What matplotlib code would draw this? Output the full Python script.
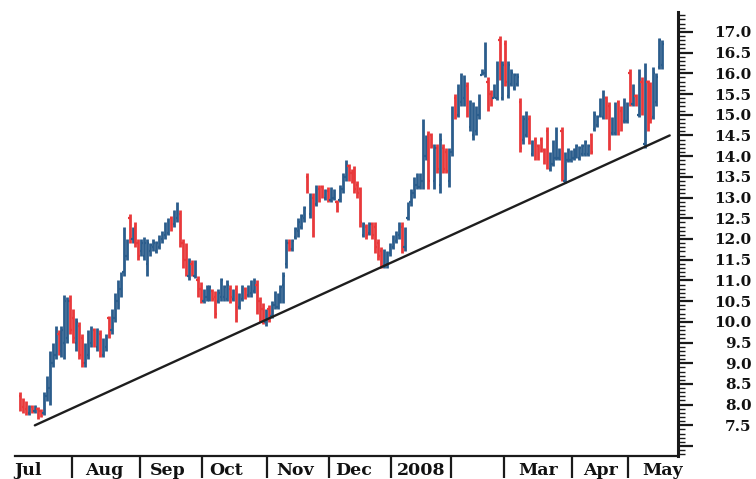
import matplotlib
matplotlib.use("Agg")
import matplotlib.pyplot as plt
from matplotlib.ticker import FixedLocator, MultipleLocator, NullFormatter, FixedFormatter
import numpy as np

# ---- data (daily OHLC) ----
opens = [8.20, 7.95, 7.90, 7.80, 7.95, 7.85, 7.90, 7.85, 7.80, 8.20,
         8.40, 9.00, 9.20, 9.70, 9.30, 9.50, 9.60, 10.50, 10.10, 9.50,
         9.90, 9.60, 9.00, 9.20, 9.50, 9.80, 9.40, 9.70, 9.20, 9.40,
         10.10, 9.80, 10.10, 10.50, 10.80, 11.20, 11.60, 12.50, 12.00, 12.30,
         11.90, 11.70, 11.60, 11.40, 11.70, 11.80, 11.70, 11.80, 12.00, 12.10,
         12.15, 12.50, 12.35, 12.50, 12.60, 11.90, 11.50, 11.10, 11.40, 11.10,
         11.00, 10.80, 10.50, 10.60, 10.55, 10.75, 10.60, 10.50, 10.60, 10.60,
         10.55, 10.80, 10.55, 10.80, 10.35, 10.55, 10.80, 10.65, 10.70, 10.75,
         10.90, 10.50, 10.30, 10.00, 10.30, 10.15, 10.40, 10.35, 10.50, 10.90,
         11.40, 11.90, 11.75, 12.05, 12.20, 12.30, 12.50, 13.50, 12.60, 13.00,
         12.85, 13.20, 13.25, 13.00, 13.15, 12.95, 13.00, 12.90, 12.95, 13.20,
         13.50, 13.75, 13.60, 13.60, 13.30, 13.20, 12.10, 12.30, 12.15, 12.35,
         12.30, 11.90, 11.70, 11.35, 11.40, 11.65, 11.80, 11.95, 12.10, 12.30,
         11.80, 12.50, 12.90, 13.10, 13.30, 13.25, 13.40, 14.00, 14.50, 14.50,
         13.40, 14.20, 13.30, 14.20, 14.10, 13.40, 14.10, 15.40, 15.00, 15.30,
         15.40, 15.70, 14.70, 14.50, 14.60, 15.00, 15.95, 16.00, 15.80, 15.50,
         15.40, 15.40, 16.80, 15.40, 16.70, 15.45, 15.75, 15.65, 15.75, 15.30,
         14.40, 14.50, 14.90, 14.05, 14.40, 14.25, 14.40, 14.15, 14.60, 13.70,
         13.80, 13.95, 13.95, 14.60, 13.40, 13.90, 13.90, 13.95, 14.00, 13.95,
         14.05, 14.05, 14.05, 14.50, 14.65, 14.75, 15.00, 14.95, 15.40, 15.20,
         14.55, 14.55, 15.30, 15.10, 14.85, 14.85, 16.00, 15.25, 15.45, 15.00,
         15.80, 14.30, 15.80, 15.70, 14.95, 15.30, 16.15, 16.20]
highs = [8.30, 8.15, 8.10, 8.00, 8.00, 8.00, 7.95, 7.90, 8.30, 8.70,
         9.30, 9.50, 9.90, 9.80, 9.90, 10.65, 10.60, 10.65, 10.30, 10.10,
         10.00, 9.70, 9.50, 9.80, 9.90, 9.85, 9.85, 9.80, 9.60, 9.70,
         10.15, 10.30, 10.70, 11.00, 11.20, 12.30, 12.00, 12.60, 12.30, 12.40,
         12.00, 12.00, 12.05, 12.00, 11.90, 12.00, 11.95, 12.10, 12.20, 12.40,
         12.50, 12.55, 12.70, 12.90, 12.70, 12.00, 11.90, 11.55, 11.50, 11.50,
         11.10, 10.95, 10.80, 10.90, 10.90, 10.80, 10.75, 10.80, 11.05, 10.90,
         11.00, 10.90, 10.80, 10.90, 10.70, 10.90, 10.85, 10.90, 11.00, 11.05,
         11.00, 10.60, 10.45, 10.30, 10.40, 10.50, 10.75, 10.70, 10.90, 11.20,
         12.00, 12.00, 12.00, 12.30, 12.50, 12.60, 12.80, 13.60, 13.10, 13.10,
         13.30, 13.30, 13.30, 13.20, 13.25, 13.25, 13.20, 12.95, 13.30, 13.60,
         13.90, 13.80, 13.70, 13.75, 13.40, 13.25, 12.40, 12.35, 12.40, 12.40,
         12.40, 12.00, 11.80, 11.75, 11.70, 11.90, 12.10, 12.20, 12.40, 12.40,
         12.30, 12.90, 13.20, 13.50, 13.60, 13.60, 14.90, 14.50, 14.60, 14.55,
         14.30, 14.30, 14.55, 14.30, 14.20, 14.20, 15.20, 15.50, 15.75, 16.00,
         15.95, 15.80, 15.35, 15.30, 15.20, 15.50, 16.10, 16.75, 15.90, 15.60,
         15.75, 16.30, 16.90, 16.30, 16.80, 16.30, 16.10, 16.00, 16.00, 15.40,
         15.00, 15.10, 15.00, 14.40, 14.45, 14.30, 14.45, 14.20, 14.70, 14.10,
         14.40, 14.70, 14.20, 14.70, 14.10, 14.20, 14.15, 14.20, 14.30, 14.25,
         14.30, 14.40, 14.30, 14.55, 15.10, 15.00, 15.40, 15.60, 15.45, 15.30,
         14.95, 15.30, 15.35, 15.20, 15.40, 15.30, 16.10, 15.75, 15.50, 16.10,
         15.90, 16.25, 15.85, 15.80, 16.15, 16.00, 16.85, 16.80]
lows = [7.85, 7.80, 7.75, 7.75, 7.80, 7.80, 7.65, 7.70, 7.75, 8.10,
        8.00, 8.90, 9.10, 9.20, 9.15, 9.10, 9.50, 9.70, 9.50, 9.30,
        9.10, 8.90, 8.90, 9.10, 9.40, 9.40, 9.30, 9.15, 9.15, 9.30,
        9.60, 9.70, 10.00, 10.30, 10.60, 11.10, 11.50, 11.90, 11.90, 11.80,
        11.50, 11.60, 11.50, 11.10, 11.60, 11.70, 11.65, 11.75, 11.90, 12.00,
        12.10, 12.20, 12.30, 12.40, 11.80, 11.30, 11.10, 11.00, 11.10, 11.05,
        10.60, 10.45, 10.45, 10.50, 10.50, 10.50, 10.10, 10.45, 10.50, 10.50,
        10.50, 10.45, 10.50, 10.00, 10.30, 10.50, 10.55, 10.60, 10.60, 10.70,
        10.20, 10.00, 9.95, 9.90, 10.00, 10.10, 10.30, 10.30, 10.45, 10.45,
        11.30, 11.70, 11.70, 12.00, 12.05, 12.25, 12.40, 13.10, 12.50, 12.05,
        12.80, 12.90, 13.00, 12.95, 12.90, 12.90, 12.95, 12.65, 12.90, 13.10,
        13.40, 13.40, 13.35, 13.10, 13.00, 12.30, 12.05, 12.00, 12.10, 12.00,
        11.65, 11.50, 11.30, 11.30, 11.30, 11.60, 11.75, 11.90, 12.00, 11.65,
        11.70, 12.45, 12.80, 13.00, 13.20, 13.20, 13.20, 13.90, 13.20, 14.20,
        13.20, 13.60, 13.10, 13.60, 13.60, 13.25, 14.00, 14.90, 14.95, 15.20,
        15.20, 14.95, 14.60, 14.40, 14.50, 14.90, 15.95, 15.90, 15.10, 15.20,
        15.40, 15.35, 15.85, 15.35, 15.70, 15.40, 15.70, 15.60, 15.70, 14.10,
        14.30, 14.45, 14.30, 14.00, 13.90, 13.90, 14.10, 13.80, 13.70, 13.65,
        13.75, 13.90, 13.90, 13.40, 13.35, 13.85, 13.85, 13.90, 13.95, 13.90,
        14.00, 14.00, 14.00, 14.05, 14.60, 14.70, 14.95, 14.90, 14.90, 14.15,
        14.50, 14.50, 14.50, 14.60, 14.80, 14.80, 15.20, 15.20, 15.20, 14.95,
        15.00, 14.20, 14.60, 14.80, 14.90, 15.20, 16.10, 16.10]
closes = [7.95, 7.85, 7.80, 7.95, 7.85, 7.95, 7.70, 7.72, 8.20, 8.60,
          9.20, 9.40, 9.80, 9.30, 9.80, 10.50, 10.50, 9.80, 9.60, 10.00,
          9.20, 9.00, 9.40, 9.70, 9.80, 9.50, 9.80, 9.20, 9.50, 9.60,
          9.80, 10.20, 10.60, 10.90, 11.10, 12.10, 11.90, 12.00, 12.20, 11.90,
          11.60, 11.90, 11.90, 11.90, 11.85, 11.90, 11.90, 12.00, 12.10, 12.30,
          12.45, 12.30, 12.65, 12.80, 11.90, 11.40, 11.30, 11.50, 11.20, 11.40,
          10.70, 10.50, 10.70, 10.80, 10.85, 10.55, 10.20, 10.70, 11.00, 10.85,
          10.90, 10.60, 10.75, 10.10, 10.65, 10.85, 10.60, 10.85, 10.95, 10.95,
          10.30, 10.10, 10.05, 10.20, 10.05, 10.45, 10.70, 10.65, 10.85, 11.10,
          11.90, 11.75, 11.95, 12.25, 12.40, 12.55, 12.75, 13.20, 13.00, 12.20,
          13.20, 13.00, 13.05, 13.15, 12.95, 13.20, 13.15, 12.70, 13.25, 13.55,
          13.80, 13.45, 13.40, 13.20, 13.10, 12.40, 12.35, 12.10, 12.35, 12.10,
          11.80, 11.60, 11.40, 11.60, 11.65, 11.85, 12.05, 12.15, 12.35, 11.75,
          12.20, 12.85, 13.15, 13.45, 13.55, 13.50, 14.70, 14.40, 13.40, 14.25,
          14.20, 13.70, 14.40, 13.70, 13.65, 14.10, 15.10, 15.00, 15.65, 15.90,
          15.80, 15.05, 15.30, 15.20, 15.10, 15.40, 16.05, 16.60, 15.20, 15.25,
          15.70, 16.20, 15.90, 16.20, 15.80, 16.20, 16.00, 15.95, 15.90, 14.20,
          14.90, 15.00, 14.40, 14.35, 14.00, 14.00, 14.15, 13.85, 13.80, 14.00,
          14.30, 14.60, 14.10, 13.50, 14.00, 14.10, 14.10, 14.15, 14.25, 14.20,
          14.25, 14.35, 14.25, 14.10, 15.00, 14.95, 15.35, 15.50, 15.00, 14.30,
          14.90, 15.20, 14.60, 14.70, 15.30, 15.20, 15.30, 15.70, 15.25, 16.00,
          15.10, 16.10, 14.70, 14.90, 16.00, 15.90, 16.80, 16.70]

month_labels = ["Jul", "Aug", "Sep", "Oct", "Nov", "Dec", "2008", "", "Mar", "Apr", "May"]
month_label_pos = [2.7, 28.4, 50.0, 69.6, 92.9, 112.8, 135.5, 155.0, 175.0, 196.0, 217.2]
month_separators = [17.5, 40.5, 61.5, 83.5, 104.5, 125.5, 145.5, 163.5, 186.5, 205.5]
trend_x = [5.0, 219.5]
trend_y = [7.5, 14.5]
ytick_values = [7.0, 7.5, 8.0, 8.5, 9.0, 9.5, 10.0, 10.5, 11.0, 11.5, 12.0, 12.5,
                13.0, 13.5, 14.0, 14.5, 15.0, 15.5, 16.0, 16.5, 17.0]
ytick_labels = [""] + ["%.1f" % v for v in ytick_values[1:]]

BLUE = "#2b5d8c"
RED = "#e8393b"

fig = plt.figure(figsize=(7.56, 4.79), dpi=100)
ax = fig.add_axes([15/756, 23/479, 663/756, 444/479])

x = np.arange(len(closes))
o = np.array(opens); h = np.array(highs); l = np.array(lows); c = np.array(closes)
cols = [BLUE if cc >= oo else RED for oo, cc in zip(o, c)]
ax.vlines(x, l, h, colors=cols, lw=2.0)
ax.hlines(o, x - 0.45, x, colors=cols, lw=1.6)
ax.hlines(c, x, x + 0.45, colors=cols, lw=1.6)

ax.plot(trend_x, trend_y, color="#1e1e1e", lw=1.7, solid_capstyle="round")

ax.set_xlim(-1.7, 222.3)
ax.set_ylim(6.76, 17.48)

for s in ["left", "top"]:
    ax.spines[s].set_visible(False)
ax.spines["right"].set_linewidth(2.2)
ax.spines["bottom"].set_linewidth(1.6)
ax.spines["right"].set_color("#1a1a1a")
ax.spines["bottom"].set_color("#1a1a1a")

# y axis on right
ax.yaxis.tick_right()
ax.yaxis.set_major_locator(FixedLocator(ytick_values))
ax.yaxis.set_major_formatter(FixedFormatter(ytick_labels))
ax.yaxis.set_minor_locator(MultipleLocator(0.1))
ax.tick_params(axis="y", which="major", direction="out", length=11, width=1.6,
               color="#1a1a1a", pad=42)
ax.tick_params(axis="y", which="minor", direction="out", length=5, width=1.0,
               color="#1a1a1a")
for t in ax.get_yticklabels():
    t.set_horizontalalignment("right")
    t.set_fontfamily("DejaVu Serif")
    t.set_fontweight("bold")
    t.set_fontsize(11)
    t.set_color("#111111")

# x axis: separators as major ticks, labels as minor ticks
ax.xaxis.set_major_locator(FixedLocator(month_separators))
ax.xaxis.set_major_formatter(NullFormatter())
ax.xaxis.set_minor_locator(FixedLocator(month_label_pos))
ax.xaxis.set_minor_formatter(FixedFormatter(month_labels))
ax.tick_params(axis="x", which="major", direction="out", length=16, width=1.6,
               color="#1a1a1a")
ax.tick_params(axis="x", which="minor", length=0, pad=4)
for t in ax.xaxis.get_minorticklabels():
    t.set_fontfamily("DejaVu Serif")
    t.set_fontweight("bold")
    t.set_fontsize(12.5)
    t.set_color("#111111")

fig.savefig("out.png", dpi=100)
